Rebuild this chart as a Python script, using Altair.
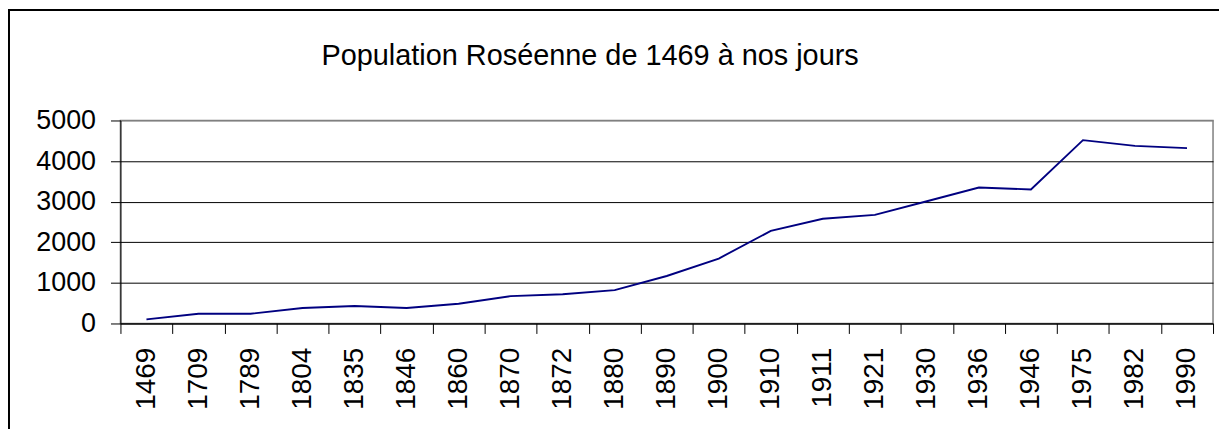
import altair as alt
import pandas as pd

years = ["1469", "1709", "1789", "1804", "1835", "1846", "1860", "1870", "1872", "1880",
         "1890", "1900", "1910", "1911", "1921", "1930", "1936", "1946", "1975", "1982", "1990"]
population = [100, 240, 240, 380, 430, 380, 485, 675, 720, 820,
              1170, 1600, 2280, 2580, 2675, 3010, 3350, 3300, 4515, 4375, 4320]
y_ticks = [0, 1000, 2000, 3000, 4000, 5000]
title_text = "Population Roséenne de 1469 à nos jours"

df = pd.DataFrame({"annee": years, "population": population})
FONT = "Liberation Sans"

line = alt.Chart(df).mark_line(color="#000080", strokeWidth=1.9).encode(
    x=alt.X("annee:N", sort=years, bandPosition=0.5,
            scale=alt.Scale(type="band", paddingInner=0, paddingOuter=0),
            axis=alt.Axis(title=None, labelAngle=-90, tickBand="extent", grid=False,
                          tickSize=10, labelPadding=14, labelFontSize=28,
                          labelFont=FONT, labelColor="black", domainColor="black",
                          tickColor="black", labelOverlap=False)),
    y=alt.Y("population:Q",
            scale=alt.Scale(domain=[0, 5000], nice=False),
            axis=alt.Axis(title=None, values=y_ticks, format="d", tickSize=10, labelPadding=15,
                          labelFontSize=27, labelFont=FONT, labelColor="black",
                          domainColor="black", tickColor="black",
                          gridColor={"condition": {"test": "datum.value == 5000", "value": "#808080"},
                                     "value": "black"},
                          gridWidth=1, gridOpacity=1)),
)

border = alt.Chart(pd.DataFrame({"b": [0]})).mark_rect(
    filled=False, stroke="black", strokeWidth=2, clip=False
).encode(
    x=alt.value(-112), x2=alt.value(1140),
    y=alt.value(-111), y2=alt.value(340),
)

chart = alt.layer(line, border).properties(
    width=1098, height=204,
    title=alt.TitleParams(title_text, fontSize=29, font=FONT, fontWeight="normal",
                          color="black", anchor="middle", frame="group", dx=-77,
                          offset=-62),
    autosize=alt.AutoSizeParams(type="none"),
    padding={"left": 113, "top": 112, "right": 6, "bottom": 105},
).configure_view(stroke="#808080", strokeWidth=1.5)

chart.save("out.html", embed_options={"renderer": "svg", "actions": False})
